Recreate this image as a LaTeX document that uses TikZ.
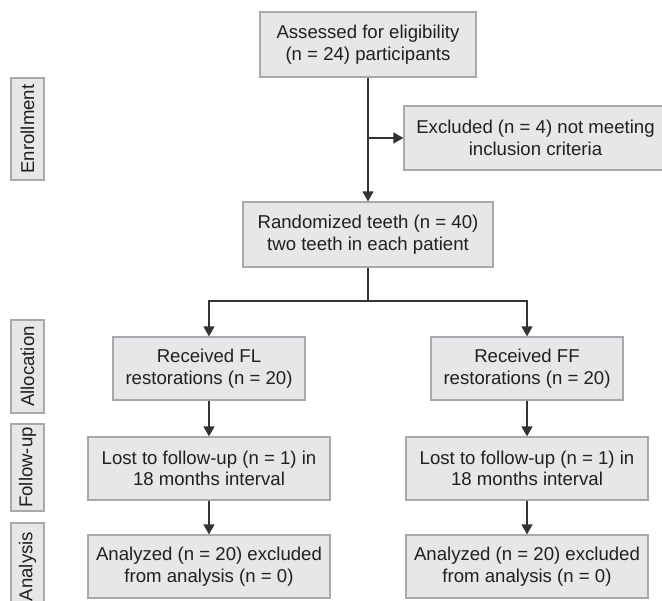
\documentclass[tikz,border=0pt]{standalone}
\usepackage[rgb]{xcolor}
\usepackage{fontspec}
\setmainfont{Liberation Sans}
\usepackage{tikz}
\usetikzlibrary{arrows.meta}

\definecolor{boxfill}{HTML}{E6E7E8}
\definecolor{boxline}{HTML}{A7A9AC}
\definecolor{inktext}{HTML}{231F20}
\definecolor{inkline}{HTML}{333333}

\begin{document}
\begin{tikzpicture}[x=1pt, y=-1pt,
 every node/.style={font=\fontsize{18.6}{21.5}\selectfont, text=inktext},
 stagebox/.style={draw=boxline, fill=boxfill, line width=1.2pt, align=center, inner sep=0pt},
 sidebox/.style={stagebox, rotate=90, minimum height=33pt},
 flowline/.style={draw=inkline, line width=1.3pt},
 flowarrow/.style={flowline, -{Triangle[width=11pt,length=10pt]}}]

\useasboundingbox (0,0) rectangle (662,601);

% phases on the left
 \node[sidebox, minimum width=102pt] (enroll) at (27.5,129) {Enrollment};
 \node[sidebox, minimum width=93pt] (alloc) at (27.5,366.5) {Allocation};
 \node[sidebox, minimum width=87pt] (follow) at (27.5,467.5) {Follow-up};
 \node[sidebox, minimum width=87pt] (analys) at (27.5,566.5) {Analysis};

% enrollment
 \node[stagebox, minimum width=216pt, minimum height=65pt] (assess) at (368,44.5)
  {Assessed for eligibility\\(n = 24) participants};
 \node[stagebox, minimum width=263pt, minimum height=64pt] (excl) at (535.5,138)
  {Excluded (n = 4) not meeting\\inclusion criteria};
 \node[stagebox, minimum width=250pt, minimum height=65pt] (rand) at (368,234.5)
  {Randomized teeth (n = 40)\\two teeth in each patient};
 \coordinate (split) at (368,301);

% two arms
 \node[stagebox, minimum width=192pt, minimum height=63pt] (fl) at (209,368.5)
  {Received FL\\restorations (n = 20)};
 \node[stagebox, minimum width=192pt, minimum height=63pt] (ff) at (527,368.5)
  {Received FF\\restorations (n = 20)};
 \node[stagebox, minimum width=242pt, minimum height=63pt] (lostfl) at (209,468.5)
  {Lost to follow-up (n = 1) in\\18 months interval};
 \node[stagebox, minimum width=242pt, minimum height=63pt] (lostff) at (527,468.5)
  {Lost to follow-up (n = 1) in\\18 months interval};
 \node[stagebox, minimum width=242pt, minimum height=63pt] (anafl) at (209,566.5)
  {Analyzed (n = 20) excluded\\from analysis (n = 0)};
 \node[stagebox, minimum width=242pt, minimum height=63pt] (anaff) at (527,566.5)
  {Analyzed (n = 20) excluded\\from analysis (n = 0)};

% connectors
 \draw[flowarrow] (assess.south) -- (rand.north);
 \draw[flowarrow] (assess.south |- excl.west) -- (excl.west);
 \draw[flowline] (rand.south) -- (split);
 \draw[flowarrow] (split) -| (fl.north);
 \draw[flowarrow] (split) -| (ff.north);
 \draw[flowarrow] (fl.south) -- (lostfl.north);
 \draw[flowarrow] (ff.south) -- (lostff.north);
 \draw[flowarrow] (lostfl.south) -- (anafl.north);
 \draw[flowarrow] (lostff.south) -- (anaff.north);

\end{tikzpicture}
\end{document}
